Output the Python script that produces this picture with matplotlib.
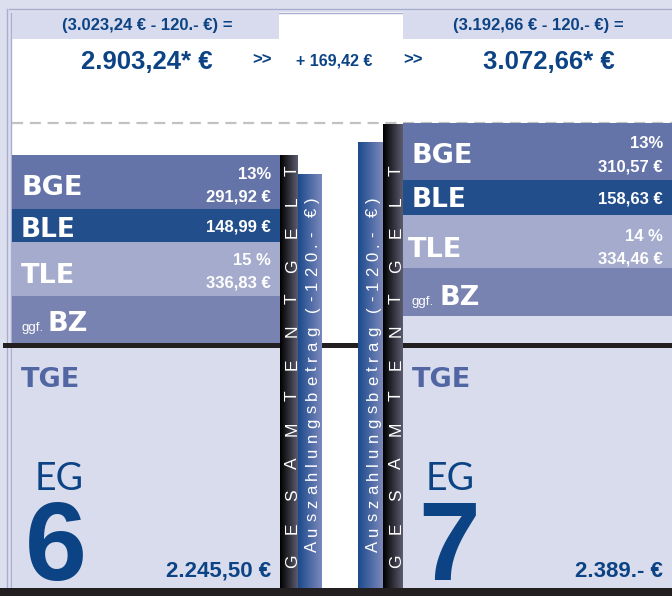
import numpy as np
import matplotlib.pyplot as plt
from matplotlib.patches import Rectangle
from matplotlib.colors import LinearSegmentedColormap
from matplotlib.font_manager import FontProperties

# Werte der beiden Entgeltgruppen
gruppen = ['6', '7']
brutto = ['3.023,24 €', '3.192,66 €']
abzug = '120.- €'
netto = ['2.903,24* €', '3.072,66* €']
differenz = '+ 169,42 €'
bge_proz = ['13%', '13%']
bge_wert = ['291,92 €', '310,57 €']
ble_wert = ['148,99 €', '158,63 €']
tle_proz = ['15 %', '14 %']
tle_wert = ['336,83 €', '334,46 €']
tge_wert = ['2.245,50 €', '2.389.- €']

# Farben
LAV = '#dcdfee'
LINIE = '#a9aed0'
KOPF = '#d8dbed'
BGE_C = '#6574a8'
BLE_C = '#234e8c'
TLE_C = '#a4abcc'
BZ_C = '#7983b2'
TGE_BG = '#d9dcec'
TGE_TXT = '#5266a3'
DUNKEL = '#0c4385'
SCHWARZ = '#231f20'
FONT = 'Liberation Sans'
FETT = 'DejaVu Sans'

fig = plt.figure(figsize=(6.72, 5.96), dpi=100)
ax = fig.add_axes([0, 0, 1, 1])
fig.patch.set_facecolor('white')


def rect(x0, y0, x1, y1, color, z=1):
    ax.add_patch(Rectangle((x0, y0), x1 - x0, y1 - y0, facecolor=color,
                           edgecolor='none', zorder=z))


def verlauf(x0, y0, x1, y1, c0, c1, z=2):
    cmap = LinearSegmentedColormap.from_list('v', [c0, c1])
    ax.imshow(np.linspace(0, 1, 64).reshape(1, -1), cmap=cmap, aspect='auto',
              extent=[x0, x1, y1, y0], zorder=z, interpolation='bilinear')


def txt(x, y, s, size, color, weight='bold', ha='left', family=FONT, z=5):
    ax.text(x, y, s, fontsize=size, color=color, fontweight=weight, ha=ha,
            va='baseline', family=family, zorder=z)


# Rahmen
rect(0, 0, 672, 596, LAV, 0)
rect(12, 12, 672, 588, 'white', 0.5)
for p in (6.5, 10.5):
    ax.plot([p, p], [p + 2, 596], color=LINIE, lw=1, zorder=0.6)
    ax.plot([p + 2, 672], [p + 2, p + 2], color=LINIE, lw=1, zorder=0.6)

# Kopfzeile
rect(12, 12, 279, 39, KOPF, 1)
rect(403, 12, 672, 39, KOPF, 1)
txt(147.5, 30, '(' + brutto[0] + ' - ' + abzug + ') =', 12, DUNKEL, ha='center')
txt(538.5, 30, '(' + brutto[1] + ' - ' + abzug + ') =', 12, DUNKEL, ha='center')
txt(146.5, 69, netto[0], 18.5, DUNKEL, ha='center')
txt(548.5, 69, netto[1], 18.5, DUNKEL, ha='center')
txt(262, 64, '>>', 12, DUNKEL, ha='center')
txt(413, 64, '>>', 12, DUNKEL, ha='center')
txt(334.5, 65, differenz, 11.5, DUNKEL, ha='center')

ax.plot([12, 672], [123, 123], color='#c2c2c2', lw=1.6, dashes=(5, 3), zorder=1)

# Spalten: x-Bereich und Blockgrenzen (BGE, BLE, TLE, BZ)
spalten = [
    dict(x0=12, x1=280, bge=(155, 209), ble=(209, 242), tle=(242, 296), bz=(296, 345),
         tge=(345, 588), txt_x=22, rx=271, eg_x=35, zahl_x=28,
         base=dict(bge=195, bgep=179, bgew=202, ble=237, blew=232, tle=283, tlep=265,
                   tlew=288, bz=331, bz_x=48, ggf_x=21)),
    dict(x0=403, x1=672, bge=(123, 180), ble=(180, 215), tle=(215, 268), bz=(268, 316),
         tge=(316, 588), txt_x=413, rx=663, eg_x=426, zahl_x=421,
         base=dict(bge=163, bgep=148, bgew=172, ble=207, blew=203, tle=257, tlep=241,
                   tlew=263, bz=305, bz_x=439, ggf_x=411)),
]

for i, s in enumerate(spalten):
    b = s['base']
    rect(s['x0'], s['tge'][0], s['x1'], s['tge'][1], TGE_BG, 1)
    rect(s['x0'], s['bge'][0], s['x1'], s['bge'][1], BGE_C, 2)
    rect(s['x0'], s['ble'][0], s['x1'], s['ble'][1], BLE_C, 2)
    rect(s['x0'], s['tle'][0], s['x1'], s['tle'][1], TLE_C, 2)
    rect(s['x0'], s['bz'][0], s['x1'], s['bz'][1], BZ_C, 2)

    tx = s['txt_x'] if i == 0 else s['txt_x'] - 4
    txt(s['txt_x'] - 1, b['bge'], 'BGE', 19.5, 'white', family=FETT)
    txt(s['txt_x'] - 1, b['ble'], 'BLE', 19, 'white', family=FETT)
    txt(tx - 1, b['tle'], 'TLE', 19.5, 'white', family=FETT)
    txt(b['ggf_x'], b['bz'], 'ggf.', 9.5, 'white', weight='normal')
    txt(b['bz_x'], b['bz'], 'BZ', 19.5, 'white', family=FETT)

    txt(s['rx'], b['bgep'], bge_proz[i], 12, 'white', ha='right')
    txt(s['rx'], b['bgew'], bge_wert[i], 12, 'white', ha='right')
    txt(s['rx'], b['blew'], ble_wert[i], 12, 'white', ha='right')
    txt(s['rx'], b['tlep'], tle_proz[i], 12, 'white', ha='right')
    txt(s['rx'], b['tlew'], tle_wert[i], 12, 'white', ha='right')

    txt(s['txt_x'] - 1, 387, 'TGE', 19.5, TGE_TXT, family=FETT)
    txt(s['eg_x'], 490, 'EG', 27, DUNKEL, weight='normal', family=['Lato', 'DejaVu Sans'])
    txt(s['zahl_x'] - 3, 580, gruppen[i], 80, DUNKEL)
    txt(s['rx'], 577, tge_wert[i], 16, DUNKEL, ha='right')

# Trennlinien
rect(3, 343, 672, 348, SCHWARZ, 3)
rect(0, 588, 672, 596, SCHWARZ, 6)

# senkrechte Balken
verlauf(280, 155, 298, 588, '#000000', '#5c5c70', 4)
verlauf(298, 174, 322, 588, '#1c4a8c', '#7b88bb', 4)
verlauf(358, 142, 383, 588, '#1c4a8c', '#7b88bb', 4)
verlauf(383, 124, 403, 588, '#000000', '#5c5c70', 4)

renderer = fig.canvas.get_renderer()


def gesperrt(s, x_base, y_start, y_end, size):
    fp = FontProperties(family=FONT, size=size)
    ref = renderer.get_text_width_height_descent('xx', fp, ismath=False)[0]
    adv = [renderer.get_text_width_height_descent('x' + c + 'x', fp, ismath=False)[0] - ref
           for c in s]
    last = renderer.get_text_width_height_descent(s[-1], fp, ismath=False)[0]
    track = (y_start - y_end - sum(adv[:-1]) - last) / (len(s) - 1)
    pos = y_start
    for c, a in zip(s, adv):
        ax.text(x_base, pos, c, fontproperties=fp, color='white', rotation=90,
                rotation_mode='anchor', ha='left', va='baseline', zorder=6)
        pos -= a + track


gesperrt('GESAMTENTGELT', 297, 568, 165, 12.5)
gesperrt('GESAMTENTGELT', 401, 568, 165, 12.5)
gesperrt('Auszahlungsbetrag (-120.- €)', 317, 552, 197, 12)
gesperrt('Auszahlungsbetrag (-120.- €)', 378, 552, 197, 12)

ax.set_xlim(0, 672)
ax.set_ylim(596, 0)
ax.axis('off')
fig.savefig('out.png', dpi=100)
